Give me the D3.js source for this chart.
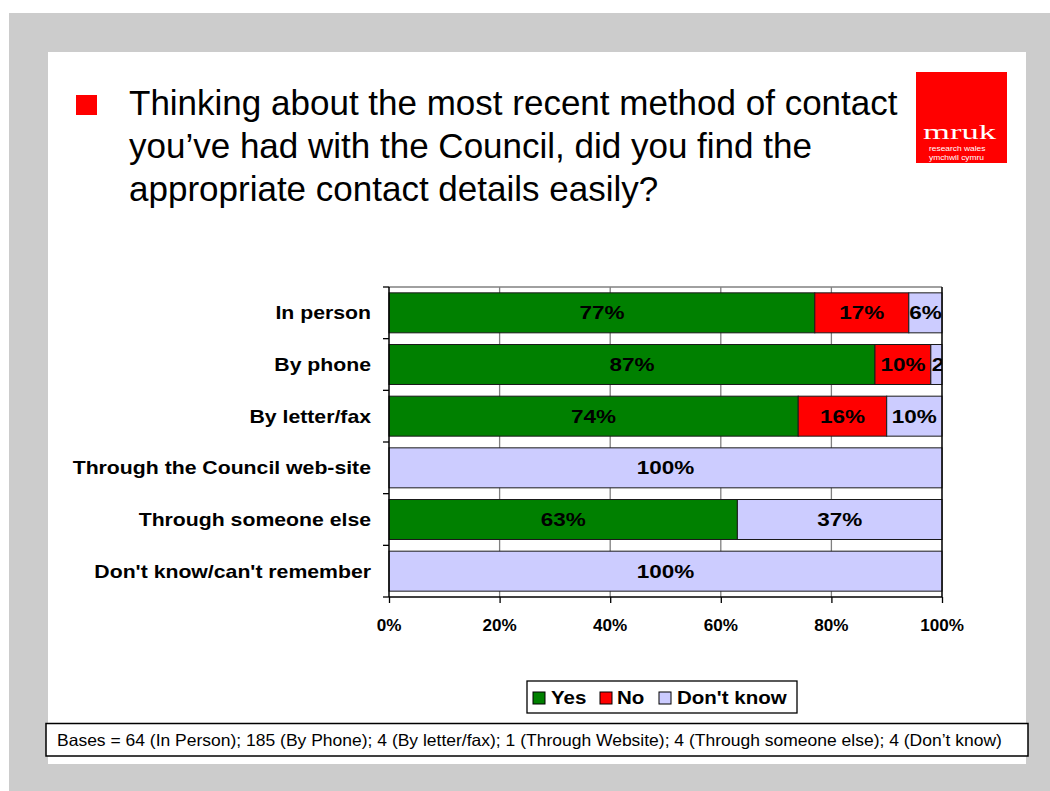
<!DOCTYPE html>
<html>
<head>
<meta charset="utf-8">
<script src="https://cdn.jsdelivr.net/npm/d3@7"></script>
<style>
  html, body { margin: 0; padding: 0; background: #ffffff; }
  svg { display: block; }
  text { font-family: "Liberation Sans", Arial, sans-serif; }
</style>
</head>
<body>
<svg id="chart" width="1050" height="791"></svg>
<script>
// Contact methods and answer shares (percent of each group)
const categories = [
  "In person",
  "By phone",
  "By letter/fax",
  "Through the Council web-site",
  "Through someone else",
  "Don't know/can't remember"
];
const yesValues      = [77, 87, 74, 0, 63, 0];
const noValues       = [17, 10, 16, 0, 0, 0];
const dontKnowValues = [6, 2, 10, 100, 37, 100];

const seriesNames  = ["Yes", "No", "Don't know"];
const seriesColors = ["#008000", "#ff0000", "#ccccff"];
const xTickValues  = [0, 0.2, 0.4, 0.6, 0.8, 1];

const titleLines = [
  "Thinking about the most recent method of contact",
  "you\u2019ve had with the Council, did you find the",
  "appropriate contact details easily?"
];
const basesNote = "Bases = 64 (In Person); 185 (By Phone); 4 (By letter/fax); 1 (Through Website); 4 (Through someone else); 4 (Don\u2019t know)";

const svg = d3.select("#chart");

// Slide frame
svg.append("rect").attr("x", 9).attr("y", 13).attr("width", 1041).attr("height", 778).attr("fill", "#cccccc");
svg.append("rect").attr("x", 48).attr("y", 52).attr("width", 978).attr("height", 712).attr("fill", "#ffffff");

// Helper: text with optional horizontal stretch
function label(g, x, y, str, opts) {
  const o = Object.assign({ size: 16, weight: "normal", anchor: "start", sx: 1, fill: "#000", family: null }, opts || {});
  const t = g.append("text")
    .attr("transform", `translate(${x},${y}) scale(${o.sx},1)`)
    .attr("text-anchor", o.anchor)
    .attr("font-size", o.size)
    .attr("font-weight", o.weight)
    .attr("fill", o.fill)
    .text(str);
  if (o.family) t.style("font-family", o.family);
  return t;
}

// Title with bullet
svg.append("rect").attr("x", 76).attr("y", 95).attr("width", 21).attr("height", 20).attr("fill", "#ff0000");
titleLines.forEach((line, i) => {
  label(svg, 129, 115 + i * 43, line, { size: 35 });
});

// Logo block
const logo = svg.append("g");
logo.append("rect").attr("x", 916).attr("y", 72).attr("width", 91).attr("height", 91).attr("fill", "#ff0000");
label(logo, 923, 139, "mruk", { size: 21, fill: "#ffffff", sx: 1.65, family: "'Liberation Serif', 'DejaVu Serif', serif" });
label(logo, 929, 151, "research wales", { size: 8, fill: "#ffffff", sx: 1.05 });
label(logo, 929, 159.5, "ymchwil cymru", { size: 8, fill: "#ffffff", sx: 1.05 });

// Chart
const plot = { left: 389, right: 942, top: 287, bottom: 597 };

const x = d3.scaleLinear().domain([0, 1]).range([plot.left, plot.right]);
const y = d3.scaleBand().domain(categories).range([plot.top, plot.bottom])
  .paddingInner(0.226).paddingOuter(0.113);

const table = categories.map((c, i) => ({
  category: c,
  "Yes": yesValues[i],
  "No": noValues[i],
  "Don't know": dontKnowValues[i]
}));
const stacked = d3.stack().keys(seriesNames).offset(d3.stackOffsetExpand)(table);

const chart = svg.append("g");

// Vertical gridlines
chart.append("g").selectAll("line").data(xTickValues.slice(1))
  .join("line")
  .attr("x1", d => x(d)).attr("x2", d => x(d))
  .attr("y1", plot.top).attr("y2", plot.bottom)
  .attr("stroke", "#808080").attr("stroke-width", 1.3);
// Plot area top edge
chart.append("line")
  .attr("x1", plot.left).attr("x2", plot.right)
  .attr("y1", plot.top).attr("y2", plot.top)
  .attr("stroke", "#808080").attr("stroke-width", 1.3);

// Stacked bars
const layers = chart.append("g").selectAll("g").data(stacked).join("g")
  .attr("fill", (d, i) => seriesColors[i]);
layers.selectAll("rect").data(d => d.filter(s => s[1] - s[0] > 0))
  .join("rect")
  .attr("x", d => x(d[0]))
  .attr("y", d => y(d.data.category))
  .attr("width", d => x(d[1]) - x(d[0]))
  .attr("height", y.bandwidth())
  .attr("stroke", "#1a1a1a").attr("stroke-width", 1);

// Axes
const yAxis = d3.axisLeft(y).tickSize(0).tickFormat("");
const yAxisG = chart.append("g").attr("transform", `translate(${plot.left},0)`).call(yAxis);
yAxisG.select(".domain").attr("stroke", "#000").attr("stroke-width", 1.5)
  .attr("d", `M0,${plot.top}V${plot.bottom}`);
// Category boundary ticks
const boundaries = categories.map(c => y(c) - y.step() * y.paddingInner() / 2).concat([plot.bottom]);
boundaries[0] = plot.top;
chart.append("g").selectAll("line").data(boundaries).join("line")
  .attr("x1", plot.left - 6).attr("x2", plot.left)
  .attr("y1", d => d).attr("y2", d => d)
  .attr("stroke", "#000").attr("stroke-width", 1.3);

const xAxis = d3.axisBottom(x).tickValues(xTickValues).tickSize(6).tickFormat("");
const xAxisG = chart.append("g").attr("transform", `translate(0,${plot.bottom})`).call(xAxis);
xAxisG.select(".domain").attr("stroke", "#000").attr("stroke-width", 1.5)
  .attr("d", `M${plot.left},0H${plot.right}`);
xAxisG.selectAll(".tick line").attr("stroke", "#000").attr("stroke-width", 1.3);
// Right edge of plot area
chart.append("line")
  .attr("x1", plot.right).attr("x2", plot.right)
  .attr("y1", plot.top).attr("y2", plot.bottom)
  .attr("stroke", "#000").attr("stroke-width", 1.3);

// Tick labels
const pct = d3.format(".0%");
xTickValues.forEach(v => {
  label(chart, x(v), 631, pct(v), { size: 16, weight: "bold", anchor: "middle", sx: 1.07 });
});

// Category labels
categories.forEach(c => {
  label(chart, 371, y(c) + y.bandwidth() / 2 + 6.5, c, { size: 18, weight: "bold", anchor: "end", sx: 1.18 });
});

// Value labels, clipped to plot area
svg.append("clipPath").attr("id", "plotClip").append("rect")
  .attr("x", plot.left).attr("y", plot.top).attr("width", plot.right - plot.left).attr("height", plot.bottom - plot.top);
const valueG = chart.append("g").attr("clip-path", "url(#plotClip)");
const valueArrays = [yesValues, noValues, dontKnowValues];
stacked.forEach((layer, si) => {
  layer.forEach((seg, ci) => {
    const v = valueArrays[si][ci];
    if (!v) return;
    const x0 = x(seg[0]), x1 = x(seg[1]);
    const cy = y(categories[ci]) + y.bandwidth() / 2 + 6.5;
    const sx = 1.25;
    const t = label(valueG, (x0 + x1) / 2, cy, v + "%", { size: 18, weight: "bold", anchor: "middle", sx: sx });
    const w = t.node().getComputedTextLength() * sx;
    if (w > x1 - x0) {
      t.attr("text-anchor", "start").attr("transform", `translate(${x0 + 1},${cy}) scale(${sx},1)`);
    }
  });
});

// Legend
const legend = svg.append("g");
legend.append("rect").attr("x", 527).attr("y", 681).attr("width", 270).attr("height", 32)
  .attr("fill", "#ffffff").attr("stroke", "#000").attr("stroke-width", 1.3);
const legendItems = [
  { name: seriesNames[0], color: seriesColors[0], sw: 533, tx: 551 },
  { name: seriesNames[1], color: seriesColors[1], sw: 600, tx: 617 },
  { name: seriesNames[2], color: seriesColors[2], sw: 659, tx: 677 }
];
legendItems.forEach(it => {
  legend.append("rect").attr("x", it.sw).attr("y", 692).attr("width", 12).attr("height", 12)
    .attr("fill", it.color).attr("stroke", "#000").attr("stroke-width", 1);
  label(legend, it.tx, 704, it.name, { size: 19, weight: "bold", sx: 1.08 });
});

// Bases note
svg.append("rect").attr("x", 46).attr("y", 723.5).attr("width", 982).attr("height", 32.5)
  .attr("fill", "#ffffff").attr("stroke", "#000").attr("stroke-width", 1.5);
label(svg, 57, 746, basesNote, { size: 16.5, sx: 1.06 });
</script>
</body>
</html>
